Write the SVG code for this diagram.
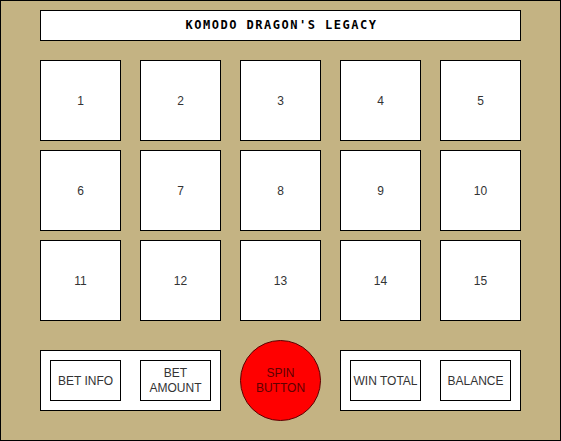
<svg xmlns="http://www.w3.org/2000/svg" width="561" height="441" viewBox="0 0 561 441">
<style>
.box{fill:#fff;stroke:#000;stroke-width:1}
.lbl{font-family:"Liberation Sans",Arial,sans-serif;font-size:12px;fill:#333;text-anchor:middle;dominant-baseline:central}
.title{font-family:"DejaVu Sans Mono","Liberation Mono",monospace;font-weight:bold;font-size:12px;letter-spacing:1.5px;fill:#000;text-anchor:middle;dominant-baseline:central}
</style>
<rect x="0.5" y="0.5" width="560" height="440" fill="#c4b383" stroke="#000"/>
<g id="title"><rect class="box" x="40.5" y="10.5" width="480" height="30"/><text class="title" x="281.5" y="24.5">KOMODO DRAGON'S LEGACY</text></g>
<g id="tile1"><rect class="box" x="40.5" y="60.5" width="80" height="80"/><text class="lbl" x="80.5" y="100.5">1</text></g>
<g id="tile2"><rect class="box" x="140.5" y="60.5" width="80" height="80"/><text class="lbl" x="180.5" y="100.5">2</text></g>
<g id="tile3"><rect class="box" x="240.5" y="60.5" width="80" height="80"/><text class="lbl" x="280.5" y="100.5">3</text></g>
<g id="tile4"><rect class="box" x="340.5" y="60.5" width="80" height="80"/><text class="lbl" x="380.5" y="100.5">4</text></g>
<g id="tile5"><rect class="box" x="440.5" y="60.5" width="80" height="80"/><text class="lbl" x="480.5" y="100.5">5</text></g>
<g id="tile6"><rect class="box" x="40.5" y="150.5" width="80" height="80"/><text class="lbl" x="80.5" y="190.5">6</text></g>
<g id="tile7"><rect class="box" x="140.5" y="150.5" width="80" height="80"/><text class="lbl" x="180.5" y="190.5">7</text></g>
<g id="tile8"><rect class="box" x="240.5" y="150.5" width="80" height="80"/><text class="lbl" x="280.5" y="190.5">8</text></g>
<g id="tile9"><rect class="box" x="340.5" y="150.5" width="80" height="80"/><text class="lbl" x="380.5" y="190.5">9</text></g>
<g id="tile10"><rect class="box" x="440.5" y="150.5" width="80" height="80"/><text class="lbl" x="480.5" y="190.5">10</text></g>
<g id="tile11"><rect class="box" x="40.5" y="240.5" width="80" height="80"/><text class="lbl" x="80.5" y="280.5">11</text></g>
<g id="tile12"><rect class="box" x="140.5" y="240.5" width="80" height="80"/><text class="lbl" x="180.5" y="280.5">12</text></g>
<g id="tile13"><rect class="box" x="240.5" y="240.5" width="80" height="80"/><text class="lbl" x="280.5" y="280.5">13</text></g>
<g id="tile14"><rect class="box" x="340.5" y="240.5" width="80" height="80"/><text class="lbl" x="380.5" y="280.5">14</text></g>
<g id="tile15"><rect class="box" x="440.5" y="240.5" width="80" height="80"/><text class="lbl" x="480.5" y="280.5">15</text></g>
<g id="leftPanel"><rect class="box" x="40.5" y="350.5" width="180" height="60"/></g>
<g id="betInfo"><rect class="box" x="50.5" y="360.5" width="70" height="40"/><text class="lbl" x="85.5" y="380.5">BET INFO</text></g>
<g id="betAmount"><rect class="box" x="140.5" y="360.5" width="70" height="40"/><text class="lbl" x="175.5" y="373">BET</text><text class="lbl" x="175.5" y="388">AMOUNT</text></g>
<g id="spin"><circle cx="280.5" cy="380.5" r="40" fill="#ff0000" stroke="#5a0000"/><text class="lbl" style="fill:#600000" x="280.5" y="373">SPIN</text><text class="lbl" style="fill:#600000" x="280.5" y="388">BUTTON</text></g>
<g id="rightPanel"><rect class="box" x="340.5" y="350.5" width="180" height="60"/></g>
<g id="winTotal"><rect class="box" x="350.5" y="360.5" width="70" height="40"/><text class="lbl" x="385.5" y="380.5">WIN TOTAL</text></g>
<g id="balance"><rect class="box" x="440.5" y="360.5" width="70" height="40"/><text class="lbl" x="475.5" y="380.5">BALANCE</text></g>
<g id="connectors"></g>
</svg>
